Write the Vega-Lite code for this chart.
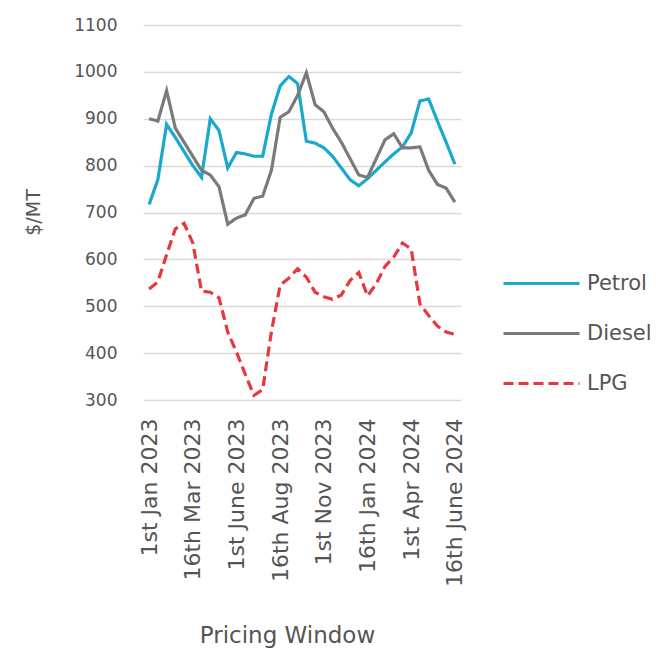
{
  "$schema": "https://vega.github.io/schema/vega-lite/v6.json",
  "width": 318,
  "height": 375,
  "autosize": {"type": "none"},
  "padding": {"left": 143, "top": 25, "right": 197, "bottom": 250},
  "background": "white",
  "config": {
    "view": {"stroke": null},
    "font": "DejaVu Sans",
    "axisY": {"titleFontSize": 19, "titleFontWeight": "normal", "titleColor": "#555555"},
    "legend": {
      "orient": "none",
      "legendX": 359,
      "legendY": 219,
      "symbolType": "stroke",
      "symbolSize": 5776,
      "symbolStrokeWidth": 3,
      "labelFontSize": 21,
      "labelColor": "#555555",
      "labelOffset": 6,
      "rowPadding": -30,
      "padding": 0
    }
  },
  "datasets": {
    "prices": [
      {"window": "1st Jan 2023", "fuel": "Petrol", "price": 717},
      {"window": "16th Jan 2023", "fuel": "Petrol", "price": 770},
      {"window": "1st Feb 2023", "fuel": "Petrol", "price": 888},
      {"window": "16th Feb 2023", "fuel": "Petrol", "price": 860},
      {"window": "1st Mar 2023", "fuel": "Petrol", "price": 830},
      {"window": "16th Mar 2023", "fuel": "Petrol", "price": 800},
      {"window": "1st Apr 2023", "fuel": "Petrol", "price": 775},
      {"window": "16th Apr 2023", "fuel": "Petrol", "price": 900},
      {"window": "1st May 2023", "fuel": "Petrol", "price": 875},
      {"window": "16th May 2023", "fuel": "Petrol", "price": 795},
      {"window": "1st June 2023", "fuel": "Petrol", "price": 828},
      {"window": "16th June 2023", "fuel": "Petrol", "price": 825},
      {"window": "1st July 2023", "fuel": "Petrol", "price": 820},
      {"window": "16th July 2023", "fuel": "Petrol", "price": 820},
      {"window": "1st Aug 2023", "fuel": "Petrol", "price": 910},
      {"window": "16th Aug 2023", "fuel": "Petrol", "price": 970},
      {"window": "1st Sep 2023", "fuel": "Petrol", "price": 990},
      {"window": "16th Sep 2023", "fuel": "Petrol", "price": 975},
      {"window": "1st Oct 2023", "fuel": "Petrol", "price": 852},
      {"window": "16th Oct 2023", "fuel": "Petrol", "price": 848},
      {"window": "1st Nov 2023", "fuel": "Petrol", "price": 838},
      {"window": "16th Nov 2023", "fuel": "Petrol", "price": 820},
      {"window": "1st Dec 2023", "fuel": "Petrol", "price": 795},
      {"window": "16th Dec 2023", "fuel": "Petrol", "price": 770},
      {"window": "1st Jan 2024", "fuel": "Petrol", "price": 757},
      {"window": "16th Jan 2024", "fuel": "Petrol", "price": 772},
      {"window": "1st Feb 2024", "fuel": "Petrol", "price": 790},
      {"window": "16th Feb 2024", "fuel": "Petrol", "price": 808},
      {"window": "1st Mar 2024", "fuel": "Petrol", "price": 825},
      {"window": "16th Mar 2024", "fuel": "Petrol", "price": 840},
      {"window": "1st Apr 2024", "fuel": "Petrol", "price": 870},
      {"window": "16th Apr 2024", "fuel": "Petrol", "price": 938},
      {"window": "1st May 2024", "fuel": "Petrol", "price": 942},
      {"window": "16th May 2024", "fuel": "Petrol", "price": 895},
      {"window": "1st June 2024", "fuel": "Petrol", "price": 850},
      {"window": "16th June 2024", "fuel": "Petrol", "price": 803},
      {"window": "1st Jan 2023", "fuel": "Diesel", "price": 900},
      {"window": "16th Jan 2023", "fuel": "Diesel", "price": 895},
      {"window": "1st Feb 2023", "fuel": "Diesel", "price": 960},
      {"window": "16th Feb 2023", "fuel": "Diesel", "price": 880},
      {"window": "1st Mar 2023", "fuel": "Diesel", "price": 850},
      {"window": "16th Mar 2023", "fuel": "Diesel", "price": 820},
      {"window": "1st Apr 2023", "fuel": "Diesel", "price": 790},
      {"window": "16th Apr 2023", "fuel": "Diesel", "price": 780},
      {"window": "1st May 2023", "fuel": "Diesel", "price": 755},
      {"window": "16th May 2023", "fuel": "Diesel", "price": 675},
      {"window": "1st June 2023", "fuel": "Diesel", "price": 688},
      {"window": "16th June 2023", "fuel": "Diesel", "price": 695},
      {"window": "1st July 2023", "fuel": "Diesel", "price": 730},
      {"window": "16th July 2023", "fuel": "Diesel", "price": 735},
      {"window": "1st Aug 2023", "fuel": "Diesel", "price": 790},
      {"window": "16th Aug 2023", "fuel": "Diesel", "price": 903},
      {"window": "1st Sep 2023", "fuel": "Diesel", "price": 915},
      {"window": "16th Sep 2023", "fuel": "Diesel", "price": 950},
      {"window": "1st Oct 2023", "fuel": "Diesel", "price": 998},
      {"window": "16th Oct 2023", "fuel": "Diesel", "price": 930},
      {"window": "1st Nov 2023", "fuel": "Diesel", "price": 915},
      {"window": "16th Nov 2023", "fuel": "Diesel", "price": 880},
      {"window": "1st Dec 2023", "fuel": "Diesel", "price": 850},
      {"window": "16th Dec 2023", "fuel": "Diesel", "price": 815},
      {"window": "1st Jan 2024", "fuel": "Diesel", "price": 780},
      {"window": "16th Jan 2024", "fuel": "Diesel", "price": 775},
      {"window": "1st Feb 2024", "fuel": "Diesel", "price": 815},
      {"window": "16th Feb 2024", "fuel": "Diesel", "price": 855},
      {"window": "1st Mar 2024", "fuel": "Diesel", "price": 868},
      {"window": "16th Mar 2024", "fuel": "Diesel", "price": 838},
      {"window": "1st Apr 2024", "fuel": "Diesel", "price": 838},
      {"window": "16th Apr 2024", "fuel": "Diesel", "price": 840},
      {"window": "1st May 2024", "fuel": "Diesel", "price": 790},
      {"window": "16th May 2024", "fuel": "Diesel", "price": 760},
      {"window": "1st June 2024", "fuel": "Diesel", "price": 752},
      {"window": "16th June 2024", "fuel": "Diesel", "price": 722},
      {"window": "1st Jan 2023", "fuel": "LPG", "price": 537},
      {"window": "16th Jan 2023", "fuel": "LPG", "price": 552},
      {"window": "1st Feb 2023", "fuel": "LPG", "price": 610},
      {"window": "16th Feb 2023", "fuel": "LPG", "price": 665},
      {"window": "1st Mar 2023", "fuel": "LPG", "price": 677},
      {"window": "16th Mar 2023", "fuel": "LPG", "price": 635},
      {"window": "1st Apr 2023", "fuel": "LPG", "price": 532},
      {"window": "16th Apr 2023", "fuel": "LPG", "price": 530},
      {"window": "1st May 2023", "fuel": "LPG", "price": 518},
      {"window": "16th May 2023", "fuel": "LPG", "price": 445},
      {"window": "1st June 2023", "fuel": "LPG", "price": 402},
      {"window": "16th June 2023", "fuel": "LPG", "price": 355},
      {"window": "1st July 2023", "fuel": "LPG", "price": 310},
      {"window": "16th July 2023", "fuel": "LPG", "price": 322},
      {"window": "1st Aug 2023", "fuel": "LPG", "price": 446},
      {"window": "16th Aug 2023", "fuel": "LPG", "price": 545},
      {"window": "1st Sep 2023", "fuel": "LPG", "price": 560},
      {"window": "16th Sep 2023", "fuel": "LPG", "price": 580},
      {"window": "1st Oct 2023", "fuel": "LPG", "price": 562},
      {"window": "16th Oct 2023", "fuel": "LPG", "price": 530},
      {"window": "1st Nov 2023", "fuel": "LPG", "price": 520},
      {"window": "16th Nov 2023", "fuel": "LPG", "price": 515},
      {"window": "1st Dec 2023", "fuel": "LPG", "price": 524},
      {"window": "16th Dec 2023", "fuel": "LPG", "price": 555},
      {"window": "1st Jan 2024", "fuel": "LPG", "price": 572},
      {"window": "16th Jan 2024", "fuel": "LPG", "price": 522},
      {"window": "1st Feb 2024", "fuel": "LPG", "price": 548},
      {"window": "16th Feb 2024", "fuel": "LPG", "price": 585},
      {"window": "1st Mar 2024", "fuel": "LPG", "price": 605},
      {"window": "16th Mar 2024", "fuel": "LPG", "price": 635},
      {"window": "1st Apr 2024", "fuel": "LPG", "price": 622},
      {"window": "16th Apr 2024", "fuel": "LPG", "price": 505},
      {"window": "1st May 2024", "fuel": "LPG", "price": 480},
      {"window": "16th May 2024", "fuel": "LPG", "price": 458},
      {"window": "1st June 2024", "fuel": "LPG", "price": 445},
      {"window": "16th June 2024", "fuel": "LPG", "price": 440}
    ]
  },
  "data": {"name": "prices"},
  "mark": {"type": "line", "strokeWidth": 3.2},
  "encoding": {
    "x": {
      "field": "window",
      "type": "ordinal",
      "sort": null,
      "scale": {"type": "point", "padding": 0.7},
      "axis": {
        "values": ["1st Jan 2023", "16th Mar 2023", "1st June 2023", "16th Aug 2023", "1st Nov 2023", "16th Jan 2024", "1st Apr 2024", "16th June 2024"],
        "labelAngle": -90,
        "labelFontSize": 22,
        "labelColor": "#555555",
        "ticks": false,
        "domain": false,
        "labelPadding": 18,
        "title": "Pricing Window",
        "titleFontSize": 23,
        "titleFontWeight": "normal",
        "titleColor": "#555555",
        "titleX": 144,
        "titleY": 242,
        "titleAlign": "center",
        "titleBaseline": "alphabetic"
      }
    },
    "y": {
      "field": "price",
      "type": "quantitative",
      "title": "$/MT",
      "scale": {"domain": [300, 1100], "nice": false, "zero": false},
      "axis": {
        "values": [300, 400, 500, 600, 700, 800, 900, 1000, 1100],
        "format": "d",
        "grid": true,
        "gridColor": "#d9d9d9",
        "gridWidth": 1.5,
        "domain": false,
        "ticks": false,
        "labelPadding": 26,
        "labelFontSize": 17,
        "labelColor": "#555555",
        "titleFontSize": 19,
        "titleX": -104,
        "titleY": 187,
        "titleAlign": "center",
        "titleBaseline": "alphabetic"
      }
    },
    "color": {
      "field": "fuel",
      "type": "nominal",
      "sort": null,
      "scale": {"domain": ["Petrol", "Diesel", "LPG"], "range": ["#1ba8cc", "#7a7a7a", "#e8383d"]},
      "legend": {"title": null}
    },
    "strokeDash": {
      "field": "fuel",
      "type": "nominal",
      "sort": null,
      "scale": {"domain": ["Petrol", "Diesel", "LPG"], "range": [[1, 0], [1, 0], [10, 5]]},
      "legend": {"title": null}
    }
  }
}
